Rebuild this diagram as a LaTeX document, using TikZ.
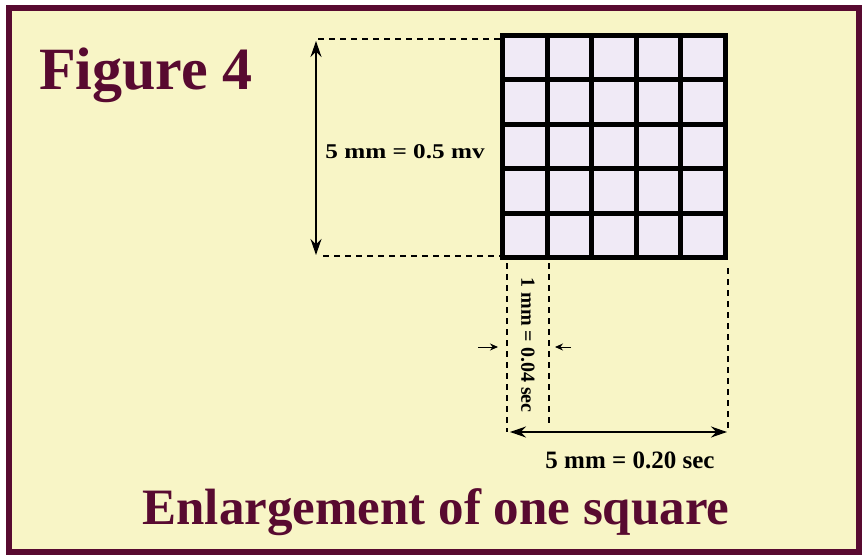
\documentclass[tikz,border=0pt]{standalone}
\usepackage{fontspec}
\setmainfont{Liberation Serif}
\usetikzlibrary{arrows.meta}
\definecolor{maroon}{RGB}{88,10,48}
\definecolor{paper}{RGB}{248,245,198}
\definecolor{cellfill}{RGB}{240,234,246}
\tikzset{
  dimline/.style={line width=1.6pt, {Stealth[length=16pt,width=11pt]}-{Stealth[length=16pt,width=11pt]}},
  tick/.style={line width=1pt, -{Stealth[length=8pt,width=7pt]}},
  guide/.style={line width=1.2pt, dash pattern=on 6pt off 5pt},
  gridline/.style={line width=5pt},
  lbl/.style={font=\bfseries, inner sep=0pt},
  titletext/.style={font=\bfseries\fontsize{60}{60}\selectfont, text=maroon, inner sep=0pt},
}
\begin{document}
\begin{tikzpicture}[x=1pt,y=-1pt]
\useasboundingbox (0,0) rectangle (868,559);
\draw[line width=6pt, draw=maroon, fill=paper] (9,8) rectangle (859,552);
\node[titletext] (fig) at (146,75) {Figure 4};
\node[titletext, font=\bfseries\fontsize{51}{51}\selectfont] (cap) at (436,512) {Enlargement of one square};

% grid
\coordinate (gNW) at (502.5,35.5);
\coordinate (gSE) at (725.5,257.5);
\fill[cellfill] (gNW) rectangle (gSE);
\foreach \i in {1,2,3,4} {
  \draw[gridline] ({502.5+\i*44.6},35.5) -- ({502.5+\i*44.6},257.5);
  \draw[gridline] (502.5,{35.5+\i*44.4}) -- (725.5,{35.5+\i*44.4});
}
\draw[gridline] (gNW) rectangle (gSE);

% vertical dimension
\coordinate (tL) at (318,39);
\coordinate (tR) at (500,39);
\coordinate (bL) at (323,256);
\coordinate (bR) at (500,256);
\draw[guide] (tL) -- (tR);
\draw[guide] (bL) -- (bR);
\coordinate (vA) at (316,41);
\coordinate (vB) at (316,255);
\draw[dimline] (vA) -- (vB);
\node[lbl, font=\bfseries\fontsize{21}{21}\selectfont, xscale=1.2] (mv) at (405,152) {5 mm = 0.5 mv};

% horizontal guides
\coordinate (d1a) at (507,263);
\coordinate (d1b) at (507,432);
\coordinate (d2a) at (549,263);
\coordinate (d2b) at (549,425);
\coordinate (d3a) at (728,268);
\coordinate (d3b) at (728,430);
\draw[guide] (d1a) -- (d1b);
\draw[guide] (d2a) -- (d2b);
\draw[guide] (d3a) -- (d3b);
\coordinate (hA) at (510,432);
\coordinate (hB) at (727,432);
\draw[dimline] (hA) -- (hB);
\node[lbl, font=\bfseries\fontsize{25}{25}\selectfont] (sec) at (630,460) {5 mm = 0.20 sec};

% small arrows
\coordinate (s1a) at (478,347);
\coordinate (s1b) at (498,347);
\coordinate (s2a) at (571,347);
\coordinate (s2b) at (555,347);
\draw[tick] (s1a) -- (s1b);
\draw[tick] (s2a) -- (s2b);
\node[lbl, font=\bfseries\fontsize{20}{20}\selectfont, rotate=-90] (one) at (528,345) {1 mm = 0.04 sec};
\end{tikzpicture}
\end{document}
